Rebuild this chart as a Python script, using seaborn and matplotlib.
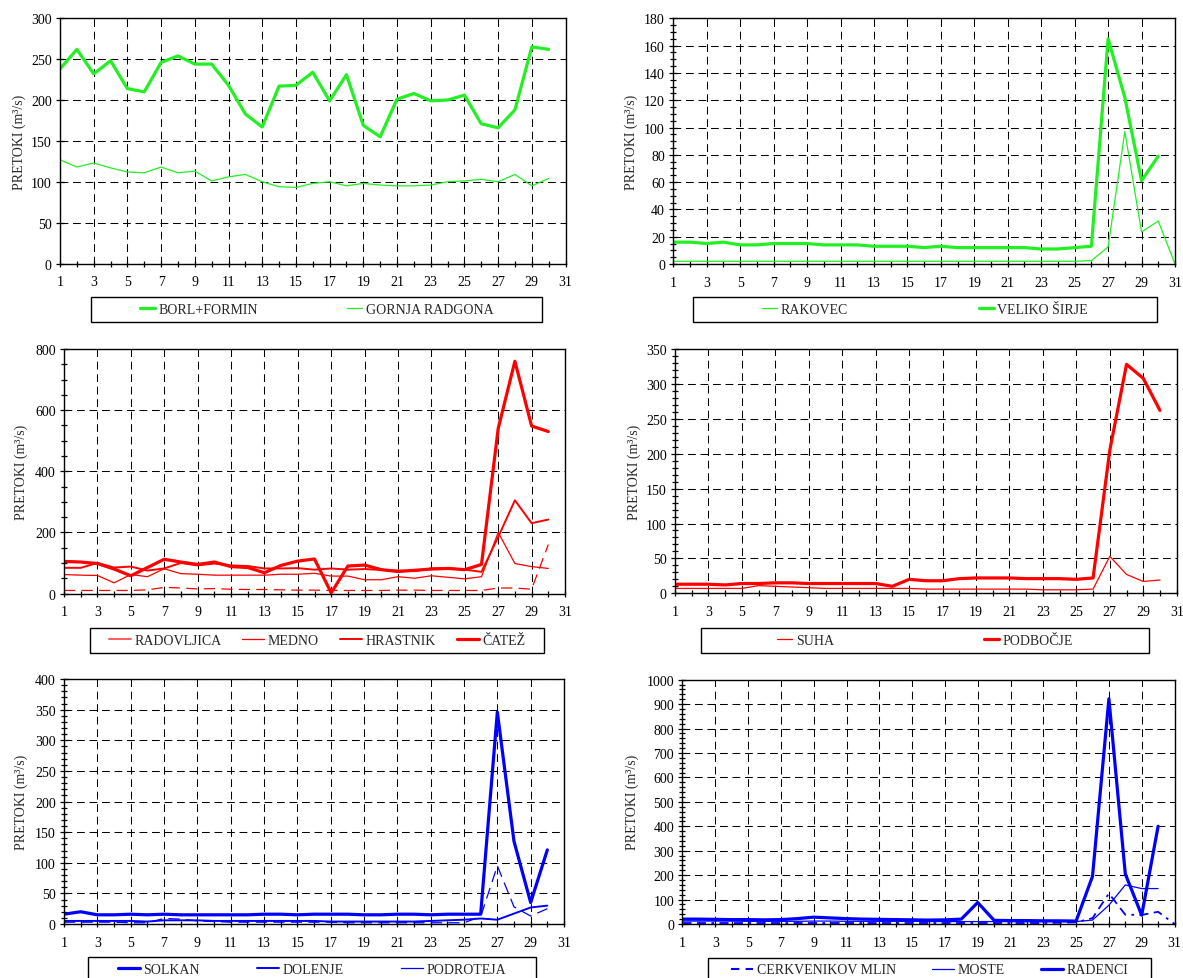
import matplotlib
matplotlib.use('Agg')
from matplotlib import pyplot as plt
from matplotlib.lines import Line2D
from matplotlib.patches import Rectangle
from matplotlib.ticker import MultipleLocator, FixedLocator
import seaborn as sns

sns.set_style('white')
plt.rcParams['font.family'] = ['Liberation Serif', 'DejaVu Serif']

# ---- data (daily flows, m3/s) ----
days = list(range(1, 31))
days31 = list(range(1, 32))

borl_formin = [238, 262, 232, 248, 214, 210, 246, 254, 244, 244, 218, 183, 167, 217, 218,
               234, 199, 231, 169, 155, 201, 208, 199, 200, 206, 171, 166, 188, 265, 262]
gornja_radgona = [127, 118, 123, 117, 112, 111, 118, 111, 113, 101, 106, 109, 100, 94, 93,
                  98, 100, 95, 98, 96, 95, 95, 96, 100, 101, 103, 100, 109, 95, 104]

rakovec = [2, 2, 2, 2, 2, 2, 2, 2, 2, 2, 2, 2, 2, 2, 2, 2, 2, 2, 2, 2, 2, 2, 2, 2, 2,
           2.5, 12.5, 97, 23.5, 31.5, 0]
veliko_sirje = [16, 16, 15, 16, 14, 14, 15, 15, 15, 14, 14, 14, 13, 13, 13,
                12, 13, 12, 12, 12, 12, 12, 11, 11, 12, 13, 165, 122, 61, 79]

radovljica = [10, 10, 10, 10, 10, 12, 20, 18, 15, 16, 14, 13, 13, 12, 11,
              11, 10, 10, 10, 10, 11, 11, 10, 10, 10, 10, 18, 18, 14, 160]
medno = [62, 60, 59, 35, 62, 55, 81, 65, 63, 60, 60, 60, 60, 63, 63,
         66, 57, 57, 45, 45, 55, 50, 58, 53, 48, 55, 200, 98, 88, 82]
hrastnik = [84, 84, 100, 85, 88, 75, 82, 100, 92, 98, 92, 90, 82, 82, 83,
            78, 82, 78, 80, 77, 75, 73, 82, 83, 78, 71, 185, 305, 230, 242]
catez = [105, 103, 98, 80, 58, 85, 112, 103, 95, 103, 88, 85, 68, 92, 106,
         113, 2, 90, 93, 78, 72, 76, 80, 82, 78, 95, 540, 760, 548, 530]

suha = [7, 7, 7, 7, 7, 11, 10, 9, 8, 7, 7, 7, 7, 7, 7,
        6, 6, 6, 6, 6, 6, 6, 5, 5, 5, 6, 53, 27, 17, 19]
podbocje = [13, 13, 13, 12, 14, 14, 15, 15, 14, 14, 14, 14, 14, 10, 20,
            18, 18, 21, 22, 22, 22, 21, 21, 21, 20, 22, 205, 328, 308, 262]

solkan = [16, 20, 15, 15, 16, 15, 16, 15, 15, 15, 15, 15, 16, 16, 15,
          16, 16, 16, 15, 15, 16, 16, 15, 16, 16, 16, 346, 135, 35, 121]
dolenje = [5, 5, 5, 5, 5, 4, 6, 6, 6, 5, 5, 5, 5, 5, 5,
           5, 4, 4, 4, 4, 4, 4, 5, 6, 7, 9, 7, 17, 27, 30]
podroteja = [3, 3, 3, 3, 2, 2, 9, 8, 5, 4, 3, 3, 3, 3, 3,
             3, 3, 2, 2, 2, 2, 2, 2, 2, 2, 12, 95, 28, 13, 25]

cerkvenikov_mlin = [4, 4, 4, 4, 4, 4, 4, 4, 4, 4, 4, 4, 4, 4, 4, 4,
                    4, 4, 4, 4, 4, 4, 4, 5, 7, 24, 125, 38, 37, 50, 0]
moste = [12, 12, 12, 12, 11, 11, 11, 11, 12, 12, 11, 11, 11, 11, 11,
         10, 10, 10, 10, 10, 10, 10, 10, 10, 10, 16, 77, 160, 145, 145]
radenci = [20, 20, 19, 18, 18, 17, 18, 22, 28, 25, 22, 20, 19, 18, 17,
           16, 17, 20, 88, 15, 14, 14, 13, 13, 12, 195, 922, 205, 36, 400]

GREEN = '#22f022'
RED = '#ff0000'
BLUE = '#0000ff'
THICK, MED, THIN = 2.3, 1.4, 0.9
BROKEN = (0, (9, 5))

W, H = 1183, 979
fig = plt.figure(figsize=(W / 100, H / 100), dpi=100)


def panel(box, ymax, ystep, yminor, series, legbox, colsp, hlen, lab_off):
    l, r, t, b = box
    ax = fig.add_axes([l / W, 1 - b / H, (r - l) / W, (b - t) / H])
    handles = []
    for name, x, y, color, lw, ls, leg in series:
        sns.lineplot(x=x, y=y, ax=ax, color=color, linewidth=lw, linestyle=ls, legend=False)
        lc, llw, lls = leg
        handles.append(Line2D([], [], color=lc, lw=llw, linestyle=lls, label=name))
    ax.set_xlim(1, 31)
    ax.set_ylim(0, ymax)
    ax.xaxis.set_major_locator(FixedLocator(list(range(1, 32, 2))))
    ax.xaxis.set_minor_locator(FixedLocator(list(range(2, 31, 2))))
    ax.yaxis.set_major_locator(MultipleLocator(ystep))
    if yminor:
        ax.yaxis.set_minor_locator(MultipleLocator(yminor))
    ax.grid(True, which='major', color='black', linestyle=(0, (7.5, 4.5)), linewidth=0.75)
    ax.tick_params(axis='both', which='both', direction='inout', colors='black',
                   bottom=True, left=True, top=False, right=False, labelsize=10, width=0.9)
    ax.tick_params(axis='x', which='both', length=5, pad=6)
    ax.tick_params(axis='y', which='major', length=6, pad=3)
    ax.tick_params(axis='y', which='minor', length=4)
    for sp in ax.spines.values():
        sp.set_visible(True)
        sp.set_color('black')
        sp.set_linewidth(1.0)
    ax.set_xlabel('')
    ax.set_ylabel('PRETOKI (m³/s)', fontsize=10)
    ax.yaxis.set_label_coords(-lab_off / (r - l), 0.5)

    x0, x1, y0, y1 = legbox
    fig.add_artist(Rectangle((x0 / W, 1 - y1 / H), (x1 - x0) / W, (y1 - y0) / H,
                             transform=fig.transFigure, fill=False, ec='black', lw=1.0))
    ax.legend(handles=handles, loc='center', bbox_to_anchor=((x0 + x1) / 2 / W, 1 - (y0 + y1) / 2 / H),
              bbox_transform=fig.transFigure, frameon=False, ncol=len(handles),
              fontsize=10, columnspacing=colsp, handlelength=hlen, handletextpad=0.25,
              borderpad=0, borderaxespad=0)
    return ax


panel((60, 565.5, 19.3, 264.5), 300, 50, None,
      [('BORL+FORMIN', days, borl_formin, GREEN, THICK, '-', (GREEN, THICK, '-')),
       ('GORNJA RADGONA', days, gornja_radgona, GREEN, THIN, '-', (GREEN, THIN, '-'))],
      (91, 542, 298.3, 322.7), 6.4, 1.1, 34)

panel((673.3, 1175, 19.3, 265), 180, 20, 5,
      [('RAKOVEC', days31, rakovec, GREEN, THIN, '-', (GREEN, THIN, '-')),
       ('VELIKO ŠIRJE', days, veliko_sirje, GREEN, THICK, '-', (GREEN, THICK, '-'))],
      (693, 1157, 298.3, 323), 9.4, 1.1, 35)

panel((64, 565, 350, 594.5), 800, 200, 50,
      [('RADOVLJICA', days, radovljica, RED, THIN, BROKEN, ('#ff5a5a', MED, '-')),
       ('MEDNO', days, medno, RED, THIN, '-', (RED, THIN, '-')),
       ('HRASTNIK', days, hrastnik, RED, MED, '-', (RED, MED, '-')),
       ('ČATEŽ', days, catez, RED, THICK, '-', (RED, THICK, '-'))],
      (90, 544, 629, 654), 1.5, 1.6, 35.5)

panel((675, 1176.7, 350, 594.3), 350, 50, 10,
      [('SUHA', days, suha, RED, THIN, '-', (RED, THIN, '-')),
       ('PODBOČJE', days, podbocje, RED, THICK, '-', (RED, THICK, '-'))],
      (701, 1149, 629.3, 654.3), 10.8, 1.1, 34)

panel((64, 564, 680, 925), 400, 50, 10,
      [('SOLKAN', days, solkan, BLUE, THICK, '-', (BLUE, THICK, '-')),
       ('DOLENJE', days, dolenje, BLUE, MED, '-', (BLUE, MED, '-')),
       ('PODROTEJA', days, podroteja, BLUE, THIN, BROKEN, (BLUE, THIN, '-'))],
      (87.5, 536, 958, 983), 4.1, 1.6, 35.5)

panel((682.5, 1174.5, 680.7, 925), 1000, 100, 20,
      [('CERKVENIKOV MLIN', days31, cerkvenikov_mlin, BLUE, 1.3, (0, (5, 3, 5, 3, 1.5, 3)),
        (BLUE, 1.5, (0, (4, 3, 4, 3, 1.5, 3)))),
       ('MOSTE', days, moste, BLUE, THIN, '-', (BLUE, THIN, '-')),
       ('RADENCI', days, radenci, BLUE, THICK, '-', (BLUE, THICK, '-'))],
      (708, 1151, 958.5, 983.5), 2.6, 1.6, 43.5)

fig.savefig('out.png', dpi=100)
